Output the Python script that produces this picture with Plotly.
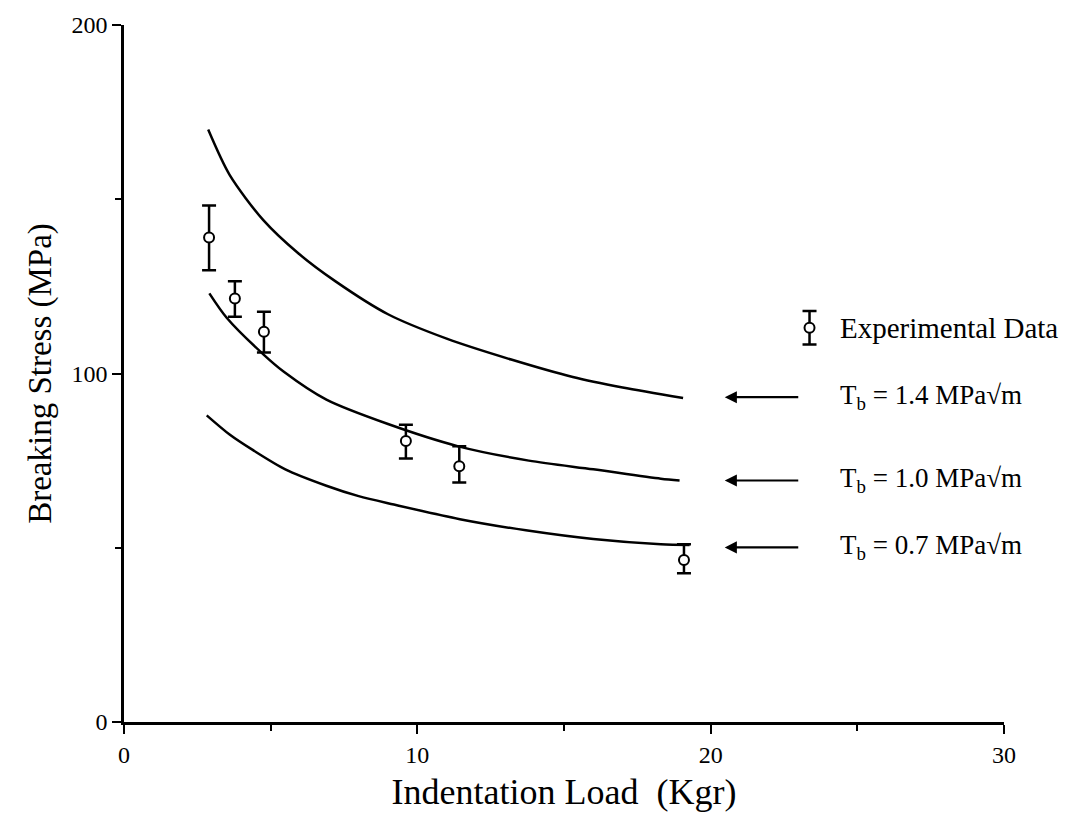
import plotly.graph_objects as go

# Theoretical curves (Indentation load in Kgr, breaking stress in MPa)
top_x = [2.87, 3.6, 4.75, 5.94, 7.2, 9.0, 11.0, 13.2, 15.3, 17.0, 19.06]
top_y = [170, 157, 144, 134.5, 126.5, 117, 110, 104, 99, 96, 93]
mid_x = [2.91, 3.5, 4.75, 5.45, 6.9, 9.0, 11.4, 13.8, 16.0, 18.3, 18.94]
mid_y = [123, 116, 105.5, 100.5, 92.5, 85.5, 79.1, 75, 72.5, 69.8, 69.3]
bot_x = [2.82, 3.6, 4.4, 5.5, 6.9, 8.0, 9.2, 11.45, 13.7, 16.0, 18.3, 19.28]
bot_y = [88, 82.5, 78, 72.5, 67.8, 64.8, 62.4, 58.2, 55, 52.5, 51, 50.8]

# Experimental data
exp_x = [2.9, 3.78, 4.77, 9.61, 11.43, 19.09]
exp_y = [139, 121.5, 112, 80.6, 73.4, 46.5]
exp_plus = [9.2, 5.0, 5.7, 4.7, 5.7, 4.5]
exp_minus = [9.4, 5.2, 6.0, 5.0, 4.7, 3.8]

curve_labels = ["T<sub>b</sub> = 1.4 MPa\u221am",
                "T<sub>b</sub> = 1.0 MPa\u221am",
                "T<sub>b</sub> = 0.7 MPa\u221am"]
curve_end_y = [93.2, 69.3, 50.1]

legend_x = [23.37]
legend_y = [113.1]
legend_err = [4.8]

FONT = "Liberation Serif, Times New Roman, serif"

fig = go.Figure()
for xs, ys in [(top_x, top_y), (mid_x, mid_y), (bot_x, bot_y)]:
    fig.add_trace(go.Scatter(x=xs, y=ys, mode="lines", line=dict(color="black", width=2.5,
                             shape="spline", smoothing=0.8),
                             showlegend=False, hoverinfo="skip"))

err_style = dict(color="black", thickness=2.5, width=7)
fig.add_trace(go.Scatter(
    x=exp_x, y=exp_y, mode="markers",
    marker=dict(symbol="circle", size=10, color="white", line=dict(color="black", width=2)),
    error_y=dict(type="data", symmetric=False, array=exp_plus, arrayminus=exp_minus, **err_style),
    showlegend=False))

fig.add_trace(go.Scatter(
    x=legend_x, y=legend_y, mode="markers", cliponaxis=False,
    marker=dict(symbol="circle", size=10, color="white", line=dict(color="black", width=2)),
    error_y=dict(type="data", array=legend_err, **err_style),
    showlegend=False))

fig.add_annotation(x=24.33, y=legend_y[0], text="Experimental Data", showarrow=False,
                   xanchor="left", yanchor="middle", font=dict(family=FONT, size=29, color="black"))

for lab, yv in zip(curve_labels, curve_end_y):
    fig.add_annotation(x=20.48, y=yv, ax=75, ay=0, text="", showarrow=True,
                       arrowhead=2, arrowsize=1.1, arrowwidth=2.2, arrowcolor="black",
                       xref="x", yref="y")
    fig.add_annotation(x=24.33, y=yv, text=lab, showarrow=False, xanchor="left",
                       yanchor="middle", font=dict(family=FONT, size=27, color="black"))

fig.update_layout(
    width=1082, height=834,
    margin=dict(l=124, r=78, t=22, b=112),
    plot_bgcolor="white", paper_bgcolor="white",
    font=dict(family=FONT, color="black"),
    showlegend=False,
)
fig.update_xaxes(range=[0, 30], tickvals=[0, 10, 20, 30], ticks="outside", ticklen=9,
                 tickwidth=2, tickcolor="black",
                 minor=dict(tickvals=[5, 15, 25], ticks="outside", ticklen=6, tickwidth=2, tickcolor="black"),
                 showline=True, linecolor="black", linewidth=2.5, showgrid=False, zeroline=False,
                 tickfont=dict(family=FONT, size=24),
                 title=dict(text="Indentation Load  (Kgr)", font=dict(family=FONT, size=36), standoff=13))
fig.update_yaxes(range=[0, 200], tickvals=[0, 100, 200], ticks="outside", ticklen=9,
                 tickwidth=2, tickcolor="black",
                 minor=dict(tickvals=[50, 150], ticks="outside", ticklen=6, tickwidth=2, tickcolor="black"),
                 showline=True, linecolor="black", linewidth=2.5, showgrid=False, zeroline=False,
                 tickfont=dict(family=FONT, size=24),
                 title=dict(text="Breaking Stress (MPa)", font=dict(family=FONT, size=33), standoff=10))

fig.write_html("out.html")
